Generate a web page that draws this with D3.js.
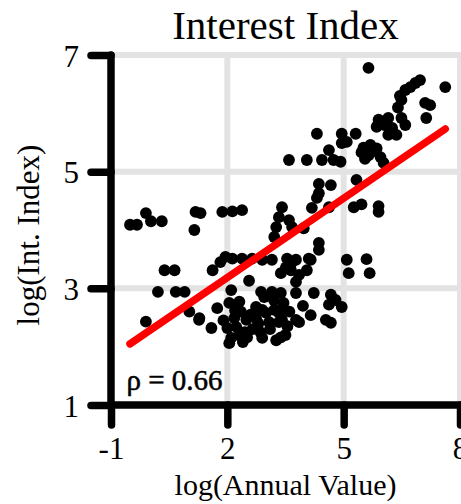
<!DOCTYPE html>
<html>
<head>
<meta charset="utf-8">
<script src="https://cdn.jsdelivr.net/npm/d3@7"></script>
<style>
  html, body { margin: 0; padding: 0; background: #ffffff; }
  svg { display: block; }
  text { font-family: "Liberation Serif", "Times New Roman", serif; fill: #000; }
</style>
</head>
<body>
<svg id="chart" width="461" height="504"></svg>
<script>
// log(Annual Value) for each observation
const annualValue = [
  -0.51, -0.33, -0.10, 0.03, 0.31, 1.18, 1.31, 1.15, 1.87, 2.13, 2.38,
  0.38, 0.64, 0.21, 0.67, 0.90, -0.10,
  1.62, 1.82, 1.95, 2.13, 2.38, 2.64, 2.90, 3.15, 3.54, 3.77, 4.10,
  2.56, 2.10, 2.87, 3.15, 1.74, 2.05, 1.28, 1.59, 2.00, 2.23, 2.05,
  2.51, 2.90, 3.26, 2.49, 2.74, 3.00, 3.21, 2.31, 2.90, 3.33, 3.33,
  3.08, 2.74, 2.18, 2.10, 3.38, 3.38, 3.77, 4.23, 4.67, 4.62, 3.77,
  4.15, 4.54, 3.41, 3.85, 3.38, 4.79, 4.95, 4.67, 1.02, 1.27,
  2.35, 2.60, 2.80, 3.10, 2.45, 2.65, 3.45, 3.60, 3.55, 2.20, 2.95,
  3.20, 1.90, 2.40, 2.85, 3.50, 3.95, 2.30,
  3.38, 3.64, 3.85, 4.05, 3.77, 3.51, 3.67, 4.15, 4.36, 4.36,
  5.08, 5.59, 5.13, 5.67,
  3.41, 3.33, 3.26, 3.21, 3.59, 3.67, 3.97, 4.18, 4.31,
  5.26, 5.46, 5.90, 5.90, 5.33, 4.36, 4.67, 4.36, 4.62,
  3.59, 4.05, 4.44, 4.62, 4.74, 4.92, 4.31, 4.95, 5.31, 5.08, 4.95,
  5.51, 5.69, 5.85, 5.64, 5.95, 6.03, 5.46, 5.75, 5.55,
  5.90, 6.15, 6.49, 6.59, 5.85, 6.36, 6.15, 6.25, 6.05, 6.45,
  6.49, 7.10, 7.23, 7.13, 6.97, 6.72, 6.59, 6.85, 7.62, 5.64, 6.40
];

// log(Int. Index) for each observation
const interestIndex = [
  4.09, 4.09, 4.29, 4.15, 4.15, 4.31, 4.29, 4.00, 4.31, 4.32, 4.34,
  3.31, 3.31, 2.94, 2.94, 2.94, 2.43,
  3.31, 3.45, 3.54, 3.51, 3.51, 3.51, 3.49, 3.49, 3.51, 3.49, 3.51,
  3.13, 2.97, 2.94, 2.94, 2.66, 2.75, 2.49, 2.32, 2.32, 2.34, 2.06,
  2.16, 2.15, 2.11, 2.46, 2.68, 2.58, 2.63, 2.77, 2.63, 2.58, 2.42,
  2.42, 2.49, 2.49, 2.15, 2.16, 2.92, 2.92, 2.92, 2.89, 2.72, 2.46,
  2.54, 2.46, 2.46, 2.42, 2.63, 2.80, 2.68, 2.41, 2.60, 2.46,
  2.60, 2.55, 2.40, 2.30, 2.25, 2.30, 2.75, 2.60, 2.35, 2.62, 2.85,
  2.80, 2.45, 2.08, 2.25, 2.20, 2.70, 2.20,
  3.26, 3.31, 3.23, 3.31, 3.11, 3.36, 3.45, 3.49, 3.78, 3.66,
  3.49, 3.50, 3.26, 3.26,
  4.39, 4.22, 4.05, 3.88, 4.17, 4.05, 4.03, 4.38, 4.55,
  4.39, 4.44, 4.41, 4.31, 4.86, 4.79, 4.77, 4.63, 4.39,
  5.20, 5.20, 5.20, 5.37, 5.20, 5.17, 5.65, 5.65, 5.65, 5.51, 5.49,
  5.41, 5.46, 5.40, 5.28, 5.25, 5.15, 5.33, 5.35, 5.22,
  5.89, 5.92, 5.92, 5.80, 5.77, 5.63, 5.63, 5.75, 5.80, 6.30,
  6.23, 6.18, 6.14, 5.92, 6.57, 6.45, 6.40, 6.52, 6.45, 6.78, 6.10
];

const xTicks = [-1, 2, 5, 8];
const yTicks = [1, 3, 5, 7];

// least-squares fit of log(Int. Index) on log(Annual Value)
const fitIntercept = 2.28;
const fitSlope = 0.453;
const rho = 0.66;

const svg = d3.select("#chart");
const x = d3.scaleLinear().domain([-1, 8]).range([111, 460]);
const y = d3.scaleLinear().domain([1, 7]).range([405, 55]);

const gridColor = "#e3e3e3";
const axisWidth = 7.5;
const tickLen = 20;

// panel grid
const grid = svg.append("g");
grid.selectAll("line.v").data(xTicks.slice(1)).join("line")
  .attr("x1", d => x(d)).attr("x2", d => x(d))
  .attr("y1", y(7)).attr("y2", y(1))
  .attr("stroke", gridColor).attr("stroke-width", 6);
grid.selectAll("line.h").data(yTicks.slice(1)).join("line")
  .attr("x1", x(-1)).attr("x2", 461)
  .attr("y1", d => y(d)).attr("y2", d => y(d))
  .attr("stroke", gridColor).attr("stroke-width", 6);

// points
const pts = annualValue.map((v, i) => ({ x: v, y: interestIndex[i] }));
svg.append("g").selectAll("circle").data(pts).join("circle")
  .attr("cx", d => x(d.x)).attr("cy", d => y(d.y))
  .attr("r", 5.9).attr("fill", "#000");

// fitted line over the observed range
const xr = d3.extent(annualValue);
const fitPts = xr.map(v => ({ x: v, y: fitIntercept + fitSlope * v }));
svg.append("path")
  .attr("d", d3.line().x(d => x(d.x)).y(d => y(d.y))(fitPts))
  .attr("stroke", "#ff0000").attr("stroke-width", 7.5)
  .attr("stroke-linecap", "round").attr("fill", "none");

// axes
const fmt = d => String(d);
const xAxis = d3.axisBottom(x).tickValues(xTicks).tickSize(tickLen).tickPadding(10).tickFormat(fmt);
const yAxis = d3.axisLeft(y).tickValues(yTicks).tickSize(tickLen).tickPadding(12).tickFormat(fmt);

const gx = svg.append("g").attr("transform", `translate(0,${y(1)})`).call(xAxis);
const gy = svg.append("g").attr("transform", `translate(${x(-1)},0)`).call(yAxis);

[gx, gy].forEach(g => {
  g.select(".domain").remove();
  g.selectAll(".tick line")
    .attr("stroke", "#000").attr("stroke-width", axisWidth).attr("stroke-linecap", "round");
  g.selectAll(".tick text")
    .attr("font-family", "Liberation Serif, serif")
    .attr("font-size", 31).attr("fill", "#000");
});
gy.selectAll(".tick text").attr("dy", "0.36em");
gx.selectAll(".tick text").attr("dy", "0.78em");

// axis lines
svg.append("line")
  .attr("x1", x(-1)).attr("x2", 461).attr("y1", y(1)).attr("y2", y(1))
  .attr("stroke", "#000").attr("stroke-width", axisWidth).attr("stroke-linecap", "round");
svg.append("line")
  .attr("x1", x(-1)).attr("x2", x(-1)).attr("y1", y(7)).attr("y2", y(1))
  .attr("stroke", "#000").attr("stroke-width", axisWidth).attr("stroke-linecap", "round");

// correlation annotation
svg.append("text")
  .attr("x", x(-0.6)).attr("y", y(1.26))
  .attr("font-size", 29)
  .attr("stroke", "#000").attr("stroke-width", 0.5)
  .text(`\u03C1 = ${rho.toFixed(2)}`);

// titles
svg.append("text")
  .attr("x", (x(-1) + x(8)) / 2).attr("y", 39)
  .attr("text-anchor", "middle").attr("font-size", 41)
  .text("Interest Index");

svg.append("text")
  .attr("x", (x(-1) + x(8)) / 2).attr("y", 495)
  .attr("text-anchor", "middle").attr("font-size", 30)
  .text("log(Annual Value)");

svg.append("text")
  .attr("transform", `translate(39,${(y(1) + y(7)) / 2 + 5}) rotate(-90)`)
  .attr("text-anchor", "middle").attr("font-size", 31)
  .text("log(Int. Index)");
</script>
</body>
</html>
